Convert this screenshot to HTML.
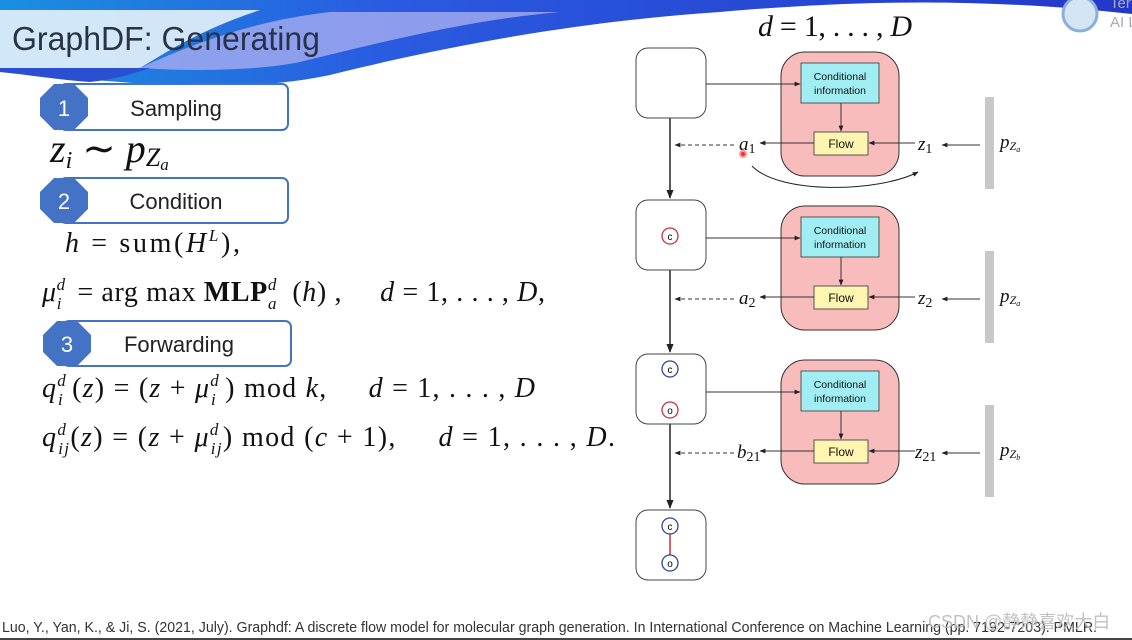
<!DOCTYPE html>
<html><head><meta charset="utf-8"><style>
html,body{margin:0;padding:0;background:#fff;}
svg{display:block;}
.m{font-family:"Liberation Serif",serif;fill:#111;}
.i{font-style:italic;}
.s{font-family:"Liberation Sans",sans-serif;}
</style></head><body>
<svg width="1132" height="640" viewBox="0 0 1132 640" xmlns="http://www.w3.org/2000/svg">
<defs>
<linearGradient id="bg1" x1="0" x2="1" y1="0" y2="0">
<stop offset="0" stop-color="#1a8fe0"/><stop offset="0.35" stop-color="#2a5ae0"/><stop offset="1" stop-color="#2438c8"/></linearGradient>
<marker id="ar" viewBox="0 0 10 10" refX="9" refY="5" markerWidth="6" markerHeight="6" orient="auto"><path d="M0,1 L10,5 L0,9 z" fill="#222"/></marker>
</defs>
<path d="M0,0 H1132 V14 C1000,0 880,-2 720,12 C600,20 470,40 330,75 C250,92 150,88 0,70 Z" fill="url(#bg1)"/>
<path d="M0,0 H1132 V6 C1000,-2 880,-2 720,10 C640,14 520,28 430,40 C330,58 230,70 170,68 L0,68 Z" fill="url(#bg1)"/>
<path d="M0,10 H260 C200,30 170,50 140,68 H0 Z" fill="#dcecf8" opacity="0.95"/>
<path d="M140,68 C200,40 260,20 330,12 L560,12 C470,20 390,40 300,62 C260,70 200,72 140,68 Z" fill="#a0a8ee" opacity="0.85"/>
<path d="M0,68 H150 C130,75 110,80 90,82 C60,80 30,75 0,72 Z" fill="#2a4fd0"/>
<text x="12" y="50" class="s" font-size="33" fill="#28324a" textLength="308" lengthAdjust="spacingAndGlyphs">GraphDF: Generating</text>
<circle cx="1080" cy="14" r="17" fill="#d4e4f4" stroke="#8ab0d8" stroke-width="3"/>
<text x="1110" y="8" class="s" font-size="15" fill="#aab">Ter</text>
<text x="1110" y="27" class="s" font-size="15" fill="#aab">AI L</text>

<g>
<rect x="60" y="84" width="228" height="46" rx="6" fill="#fff" stroke="#4472c4" stroke-width="2"/>
<polygon points="54,84 74,84 88,98 88,116 74,130 54,130 40,116 40,98" fill="#4472c4"/>
<text x="64" y="116" class="s" font-size="22" fill="#fff" text-anchor="middle">1</text>
<text x="176" y="116" class="s" font-size="22" fill="#222" text-anchor="middle">Sampling</text>
</g>
<g>
<rect x="60" y="178" width="228" height="45" rx="6" fill="#fff" stroke="#4472c4" stroke-width="2"/>
<polygon points="54,178 74,178 88,192 88,209 74,223 54,223 40,209 40,192" fill="#4472c4"/>
<text x="64" y="209" class="s" font-size="22" fill="#fff" text-anchor="middle">2</text>
<text x="176" y="209" class="s" font-size="22" fill="#222" text-anchor="middle">Condition</text>
</g>
<g>
<rect x="63" y="321" width="228" height="45" rx="6" fill="#fff" stroke="#4472c4" stroke-width="2"/>
<polygon points="57,321 77,321 91,335 91,352 77,366 57,366 43,352 43,335" fill="#4472c4"/>
<text x="67" y="352" class="s" font-size="22" fill="#fff" text-anchor="middle">3</text>
<text x="179" y="352" class="s" font-size="22" fill="#222" text-anchor="middle">Forwarding</text>
</g>

<text x="50" y="162" class="m" font-size="40"><tspan class="i">z</tspan><tspan class="i" font-size="24" dy="6">i</tspan><tspan dy="-6">&#160;∼&#160;</tspan><tspan class="i">p</tspan><tspan class="i" font-size="26" dy="4">Z</tspan><tspan class="i" font-size="17" dy="4">a</tspan></text>
<text x="65" y="252" class="m" font-size="28" textLength="175" lengthAdjust="spacing"><tspan class="i">h</tspan>&#160;=&#160;sum(<tspan class="i">H</tspan><tspan class="i" font-size="17" dy="-11">L</tspan><tspan dy="11">),</tspan></text>

<text x="42" y="301" class="m" font-size="28" textLength="503" lengthAdjust="spacing"><tspan class="i">μ</tspan><tspan class="i" font-size="17" dy="-11">d</tspan><tspan class="i" font-size="17" dx="-9" dy="19">i</tspan><tspan dy="-8">&#160;&#160;=&#160;arg&#160;max&#160;</tspan><tspan font-weight="bold">MLP</tspan><tspan class="i" font-size="17" dy="-11">d</tspan><tspan class="i" font-size="17" dx="-9" dy="19">a</tspan><tspan dy="-8">&#160;&#160;(</tspan><tspan class="i">h</tspan>)&#160;,&#160;&#160;&#160;&#160;&#160;<tspan class="i">d</tspan>&#160;=&#160;1,&#160;.&#160;.&#160;.&#160;,&#160;<tspan class="i">D</tspan>,</text>

<text x="42" y="397" class="m" font-size="28" textLength="493" lengthAdjust="spacing"><tspan class="i">q</tspan><tspan class="i" font-size="17" dy="-11">d</tspan><tspan class="i" font-size="17" dx="-9" dy="19">i</tspan><tspan dy="-8">&#160;(</tspan><tspan class="i">z</tspan>)&#160;=&#160;(<tspan class="i">z</tspan>&#160;+&#160;<tspan class="i">μ</tspan><tspan class="i" font-size="17" dy="-11">d</tspan><tspan class="i" font-size="17" dx="-9" dy="19">i</tspan><tspan dy="-8">&#160;)&#160;mod&#160;</tspan><tspan class="i">k</tspan>,&#160;&#160;&#160;&#160;&#160;<tspan class="i">d</tspan>&#160;=&#160;1,&#160;.&#160;.&#160;.&#160;,&#160;<tspan class="i">D</tspan></text>

<text x="42" y="446" class="m" font-size="28" textLength="573" lengthAdjust="spacing"><tspan class="i">q</tspan><tspan class="i" font-size="17" dy="-11">d</tspan><tspan class="i" font-size="17" dx="-9" dy="19">ij</tspan><tspan dy="-8">(</tspan><tspan class="i">z</tspan>)&#160;=&#160;(<tspan class="i">z</tspan>&#160;+&#160;<tspan class="i">μ</tspan><tspan class="i" font-size="17" dy="-11">d</tspan><tspan class="i" font-size="17" dx="-9" dy="19">ij</tspan><tspan dy="-8">)&#160;mod&#160;(</tspan><tspan class="i">c</tspan>&#160;+&#160;1),&#160;&#160;&#160;&#160;&#160;<tspan class="i">d</tspan>&#160;=&#160;1,&#160;.&#160;.&#160;.&#160;,&#160;<tspan class="i">D</tspan>.</text>

<text x="758" y="36" class="m" font-size="30" textLength="154" lengthAdjust="spacing"><tspan class="i">d</tspan>&#160;=&#160;1,&#160;.&#160;.&#160;.&#160;,&#160;<tspan class="i">D</tspan></text>

<line x1="670" y1="118" x2="670" y2="198" stroke="#222" stroke-width="1.5" marker-end="url(#ar)"/>
<line x1="670" y1="270" x2="670" y2="352" stroke="#222" stroke-width="1.5" marker-end="url(#ar)"/>
<line x1="670" y1="424" x2="670" y2="508" stroke="#222" stroke-width="1.5" marker-end="url(#ar)"/>

<rect x="636" y="48" width="70" height="70" rx="12" fill="#fff" stroke="#444"/>
<rect x="636" y="200" width="70" height="70" rx="12" fill="#fff" stroke="#444"/>
<rect x="636" y="354" width="70" height="70" rx="12" fill="#fff" stroke="#444"/>
<rect x="636" y="510" width="70" height="70" rx="12" fill="#fff" stroke="#444"/>
<g class="s" font-size="10" text-anchor="middle">
<circle cx="670" cy="236" r="8" fill="#fff" stroke="#c83040" stroke-width="1.3"/><text x="670" y="240">c</text>
<circle cx="670" cy="369" r="8" fill="#fff" stroke="#2a4a90" stroke-width="1.3"/><text x="670" y="373">c</text>
<circle cx="670" cy="410" r="8" fill="#fff" stroke="#c83040" stroke-width="1.3"/><text x="670" y="414">o</text>
<line x1="670" y1="534" x2="670" y2="555" stroke="#c83040" stroke-width="1.5"/>
<circle cx="670" cy="526" r="8" fill="#fff" stroke="#2a4a90" stroke-width="1.3"/><text x="670" y="530">c</text>
<circle cx="670" cy="563" r="8" fill="#fff" stroke="#2a4a90" stroke-width="1.3"/><text x="670" y="567">o</text>
</g>

<g id="blk">
<rect x="781" y="52" width="118" height="124" rx="24" fill="#f9bcbc" stroke="#333"/>
<rect x="801" y="63" width="78" height="40" fill="#a0eef4" stroke="#555"/>
<text x="840" y="80" class="s" font-size="10.5" text-anchor="middle" fill="#111">Conditional</text>
<text x="840" y="94" class="s" font-size="10.5" text-anchor="middle" fill="#111">information</text>
<rect x="814" y="132" width="54" height="23" fill="#fdf5b0" stroke="#555"/>
<text x="841" y="148" class="s" font-size="12" text-anchor="middle" fill="#111">Flow</text>
<line x1="841" y1="103" x2="841" y2="131" stroke="#333" marker-end="url(#ar)"/>
<line x1="706" y1="84" x2="800" y2="84" stroke="#333" marker-end="url(#ar)"/>
<line x1="814" y1="143" x2="760" y2="143" stroke="#333" marker-end="url(#ar)"/>
<line x1="915" y1="143" x2="869" y2="143" stroke="#333" marker-end="url(#ar)"/>
<line x1="980" y1="145" x2="942" y2="145" stroke="#333" marker-end="url(#ar)"/>
<line x1="734" y1="145" x2="675" y2="145" stroke="#333" stroke-dasharray="4,3" marker-end="url(#ar)"/>
<rect x="985" y="97" width="9" height="92" fill="#c8c8c8"/>
</g>
<use href="#blk" y="154"/>
<use href="#blk" y="308"/>
<path d="M752,166 C780,195 880,192 918,172" fill="none" stroke="#222" marker-end="url(#ar)"/>
<circle cx="743" cy="154" r="3" fill="#e33" stroke="#f99" stroke-width="2"/>

<g class="m i" font-size="19">
<text x="739" y="150">a<tspan font-size="14" font-style="normal" dy="3">1</tspan></text>
<text x="918" y="150">z<tspan font-size="14" font-style="normal" dy="3">1</tspan></text>
<text x="1000" y="148">p<tspan font-size="12" dy="2">Z</tspan><tspan font-size="8" dy="2">a</tspan></text>
<text x="739" y="304">a<tspan font-size="14" font-style="normal" dy="3">2</tspan></text>
<text x="918" y="304">z<tspan font-size="14" font-style="normal" dy="3">2</tspan></text>
<text x="1000" y="302">p<tspan font-size="12" dy="2">Z</tspan><tspan font-size="8" dy="2">a</tspan></text>
<text x="737" y="458">b<tspan font-size="14" font-style="normal" dy="3">21</tspan></text>
<text x="915" y="458">z<tspan font-size="14" font-style="normal" dy="3">21</tspan></text>
<text x="1000" y="456">p<tspan font-size="12" dy="2">Z</tspan><tspan font-size="8" dy="2">b</tspan></text>
</g>

<text x="2" y="632" class="s" font-size="14.5" fill="#333" textLength="1095" lengthAdjust="spacingAndGlyphs">Luo, Y., Yan, K., &amp; Ji, S. (2021, July). Graphdf: A discrete flow model for molecular graph generation. In International Conference on Machine Learning (pp. 7192-7203). PMLR.</text>
<text x="928" y="628" font-family="Liberation Sans,'Noto Sans CJK SC',sans-serif" font-size="18" fill="#bbb" opacity="0.9">CSDN @静静喜欢大白</text>
<rect x="0" y="638" width="1132" height="2" fill="#444"/>
</svg>
</body></html>
